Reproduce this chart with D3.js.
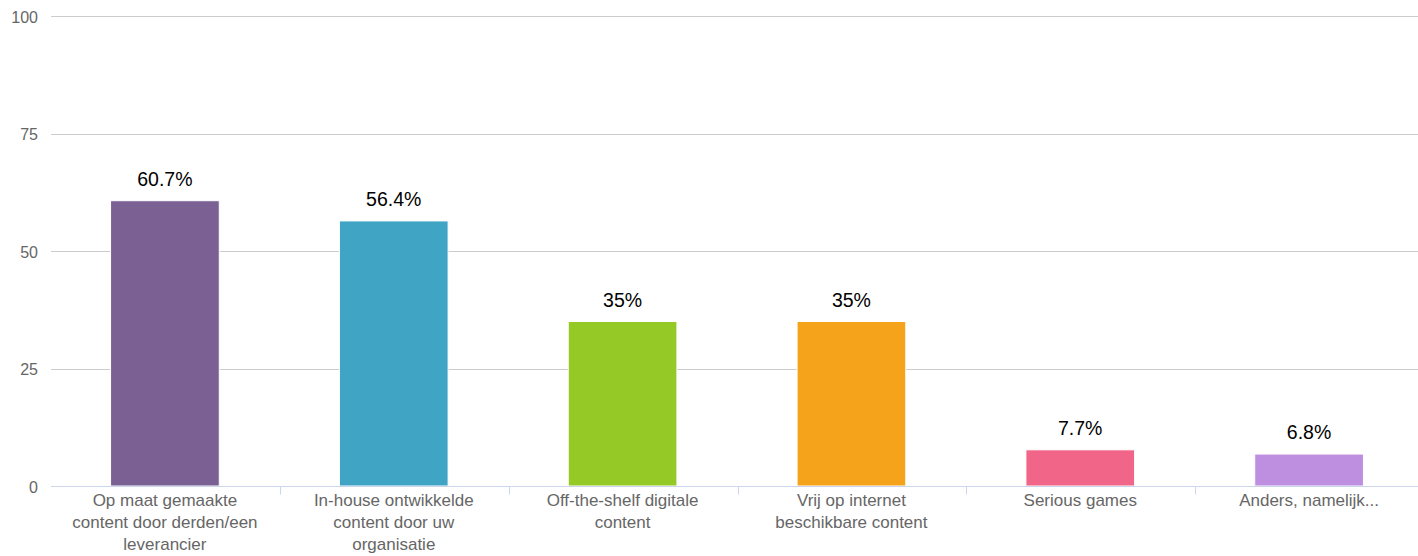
<!DOCTYPE html>
<html><head><meta charset="utf-8">
<script src="https://cdn.jsdelivr.net/npm/d3@7"></script>
<style>body{margin:0;background:#fff;}svg{display:block;font-family:"Liberation Sans",Arial,Helvetica,sans-serif;}</style>
</head><body>
<script>
const categories = ["Op maat gemaakte content door derden/een leverancier","In-house ontwikkelde content door uw organisatie","Off-the-shelf digitale content","Vrij op internet beschikbare content","Serious games","Anders, namelijk..."];
const values = [60.7, 56.4, 35, 35, 7.7, 6.8];
const valueLabels = ["60.7%","56.4%","35%","35%","7.7%","6.8%"];
const colors = ["#7b6094","#40a4c4","#95c926","#f5a31a","#f06588","#be8ee0"];
const yTicks = [0,25,50,75,100];

const W=1418,H=556;
const svg=d3.select("body").append("svg").attr("width",W).attr("height",H);
const x=d3.scaleBand().domain(categories).range([51,1424]).padding(0);
const y=d3.scaleLinear().domain([0,100]).range([486,16]);

// gridlines
svg.append("g").selectAll("line").data(yTicks.filter(d=>d>0)).join("line")
 .attr("x1",51).attr("x2",W).attr("y1",d=>Math.round(y(d))+0.5).attr("y2",d=>Math.round(y(d))+0.5)
 .attr("stroke","#cccccc").attr("stroke-width",1);
// y labels
svg.append("g").selectAll("text").data(yTicks).join("text")
 .attr("x",38).attr("y",d=>y(d)+1).attr("dy","0.35em").attr("text-anchor","end")
 .attr("fill","#666").style("font-size","16px").text(d=>d);

// bars
const bw=x.bandwidth()*0.475;
svg.append("g").selectAll("rect").data(values).join("rect")
 .attr("x",(d,i)=>x(categories[i])+x.bandwidth()/2-bw/2-0.5)
 .attr("width",bw)
 .attr("y",d=>y(d)).attr("height",d=>y(0)-y(d))
 .attr("fill",(d,i)=>colors[i]).attr("stroke","#fff").attr("stroke-width",1);

// axis line & ticks
const ay=Math.round(y(0))+0.5;
svg.append("line").attr("x1",51).attr("x2",W).attr("y1",ay).attr("y2",ay).attr("stroke","#ccd6eb");
svg.append("g").selectAll("line").data(categories.slice(1)).join("line")
 .attr("x1",d=>Math.round(x(d))+0.5).attr("x2",d=>Math.round(x(d))+0.5)
 .attr("y1",ay).attr("y2",ay+8).attr("stroke","#ccd6eb");

// data labels
svg.append("g").selectAll("text").data(values).join("text")
 .attr("x",(d,i)=>x(categories[i])+x.bandwidth()/2-0.5).attr("y",d=>y(d)-15)
 .attr("text-anchor","middle").attr("fill","#000").style("font-size","19.5px")
 .text((d,i)=>valueLabels[i]);

// category labels with wrapping
const cl=svg.append("g").selectAll("text").data(categories).join("text")
 .attr("text-anchor","middle").attr("fill","#666").style("font-size","17px")
 .attr("transform",d=>`translate(${x(d)+x.bandwidth()/2-0.5},${ay+19})`);
cl.each(function(d){
  const t=d3.select(this); const words=d.split(" "); let line=[]; let lines=[];
  const tmp=t.append("tspan");
  words.forEach(w=>{ const test=line.concat([w]).join(" "); tmp.text(test);
    if(tmp.node().getComputedTextLength()>200 && line.length){lines.push(line.join(" ")); line=[w];} else line.push(w);});
  lines.push(line.join(" ")); tmp.remove();
  lines.forEach((l,i)=>t.append("tspan").attr("x",0).attr("y",i*22).text(l));
});
</script>
</body></html>
